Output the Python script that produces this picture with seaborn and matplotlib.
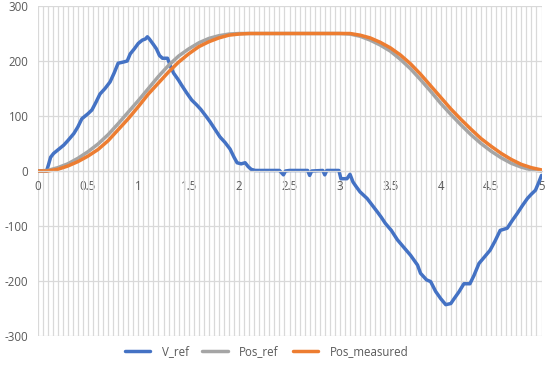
import numpy as np
import pandas as pd
import matplotlib
matplotlib.use("Agg")
import matplotlib.pyplot as plt
from matplotlib.ticker import MultipleLocator, FuncFormatter
import seaborn as sns

# ---- data ----
pos_x = [round(0.1 * i, 1) for i in range(51)]
pos_ref = [0, 1, 6, 13, 23, 35, 49, 66, 86, 107,
           128, 150, 172, 192, 209, 222, 233, 241, 246, 249,
           250, 250, 250, 250, 250, 250, 250, 250, 250, 250,
           250, 249, 245, 238, 229, 218, 203, 186, 166, 145,
           123, 103, 84, 66, 50, 36, 24, 14, 7, 2, 0]
pos_measured = [0, 0, 3, 9, 17, 27, 39, 55, 75, 95,
                117, 140, 160, 180, 198, 213, 226, 235, 242, 247,
                249, 250, 250, 250, 250, 250, 250, 250, 250, 250,
                250, 250, 247, 242, 234, 224, 211, 195, 176, 155,
                134, 113, 94, 76, 59, 45, 32, 21, 12, 6, 2]

v_x = [0, 0.09, 0.11, 0.13, 0.16, 0.2, 0.26, 0.3, 0.36, 0.40, 0.44, 0.5, 0.54,
       0.58, 0.62, 0.67, 0.72, 0.76, 0.80, 0.85, 0.89, 0.92, 0.96, 1.0, 1.04,
       1.07, 1.09, 1.11, 1.15, 1.18, 1.21, 1.24, 1.29, 1.32, 1.35, 1.40, 1.43,
       1.48, 1.53, 1.58, 1.62, 1.67, 1.71, 1.76, 1.81, 1.86, 1.91, 1.95, 1.98,
       2.02, 2.06, 2.09, 2.12, 2.16, 2.4, 2.44, 2.46, 2.5, 2.68, 2.70, 2.72,
       2.83, 2.85, 2.87, 2.99, 3.01, 3.07, 3.10, 3.13, 3.16, 3.20, 3.27, 3.32,
       3.37, 3.41, 3.45, 3.51, 3.57, 3.63, 3.70, 3.77, 3.80, 3.86, 3.90, 3.95,
       4.00, 4.05, 4.10, 4.13, 4.18, 4.23, 4.29, 4.33, 4.38, 4.44, 4.49, 4.54,
       4.59, 4.66, 4.71, 4.76, 4.81, 4.86, 4.90, 4.94, 4.97, 5.0]
v_ref = [0, 0, 12, 25, 32, 38, 47, 55, 68, 80, 95, 104, 111,
         125, 140, 150, 162, 178, 196, 198, 200, 213, 222, 232, 238,
         240, 244, 240, 230, 222, 210, 205, 205, 190, 178, 165, 156,
         142, 129, 120, 112, 100, 90, 76, 62, 52, 40, 25, 15,
         13, 15, 8, 3, 1, 1, -7, 0, 1, 1, -8, 0,
         1, -7, 1, 1, -14, -14, -6, -20, -28, -38, -50, -62,
         -74, -84, -95, -108, -125, -138, -153, -171, -186, -198, -201, -219,
         -232, -243, -241, -233, -220, -205, -205, -190, -168, -155, -144, -127,
         -108, -104, -90, -77, -63, -50, -42, -35, -22, -8]

x_ticks = [0, 0.5, 1, 1.5, 2, 2.5, 3, 3.5, 4, 4.5, 5]
y_ticks = [-300, -200, -100, 0, 100, 200, 300]

# ---- style ----
sns.set_style("white")
plt.rcParams["font.family"] = ["Open Sans", "DejaVu Sans"]
plt.rcParams["axes.unicode_minus"] = False
TXT = "#595959"
GRID = "#D9D9D9"
FS = 8.3

fig = plt.figure(figsize=(5.53, 3.69), dpi=100)
ax = fig.add_axes([37.5 / 553, 1 - 336 / 369, 504 / 553, 330 / 369])

df_v = pd.DataFrame({"x": v_x, "y": v_ref})
df_p = pd.DataFrame({"x": pos_x, "ref": pos_ref, "meas": pos_measured})

sns.lineplot(data=df_v, x="x", y="y", ax=ax, color="#4472C4", lw=2.5,
             label="V_ref", sort=False, estimator=None)
sns.lineplot(data=df_p, x="x", y="ref", ax=ax, color="#A5A5A5", lw=2.5,
             label="Pos_ref", sort=False, estimator=None)
sns.lineplot(data=df_p, x="x", y="meas", ax=ax, color="#ED7D31", lw=2.5,
             label="Pos_measured", sort=False, estimator=None)

ax.set_xlim(0, 5)
ax.set_ylim(-300, 300)
ax.set_xticks(x_ticks)
ax.set_yticks(y_ticks)
ax.xaxis.set_minor_locator(MultipleLocator(0.05))
ax.xaxis.set_major_formatter(FuncFormatter(lambda v, p: f"{v:g}"))
ax.grid(True, which="both", axis="x", color=GRID, lw=0.9)
ax.grid(True, which="major", axis="y", color=GRID, lw=0.9)
ax.set_axisbelow(True)

for s in ["top", "right", "left"]:
    ax.spines[s].set_visible(False)
ax.spines["bottom"].set_position(("data", 0))
ax.spines["bottom"].set_color(GRID)
ax.spines["bottom"].set_linewidth(0.9)
ax.tick_params(axis="x", which="both", length=0, pad=6.5, labelsize=FS,
               labelcolor=TXT)
ax.tick_params(axis="y", length=0, pad=6.5, labelsize=FS, labelcolor=TXT)
ax.set_xlabel("")
ax.set_ylabel("")

ax.legend_.remove()
h, l = ax.get_legend_handles_labels()
fig.legend(h, l, loc="center", bbox_to_anchor=(266.5 / 553, 1 - 352 / 369),
           ncol=3, frameon=False, fontsize=FS, labelcolor=TXT,
           handlelength=2.2, handletextpad=1.0, columnspacing=1.2)

fig.savefig("out.png", dpi=100)
